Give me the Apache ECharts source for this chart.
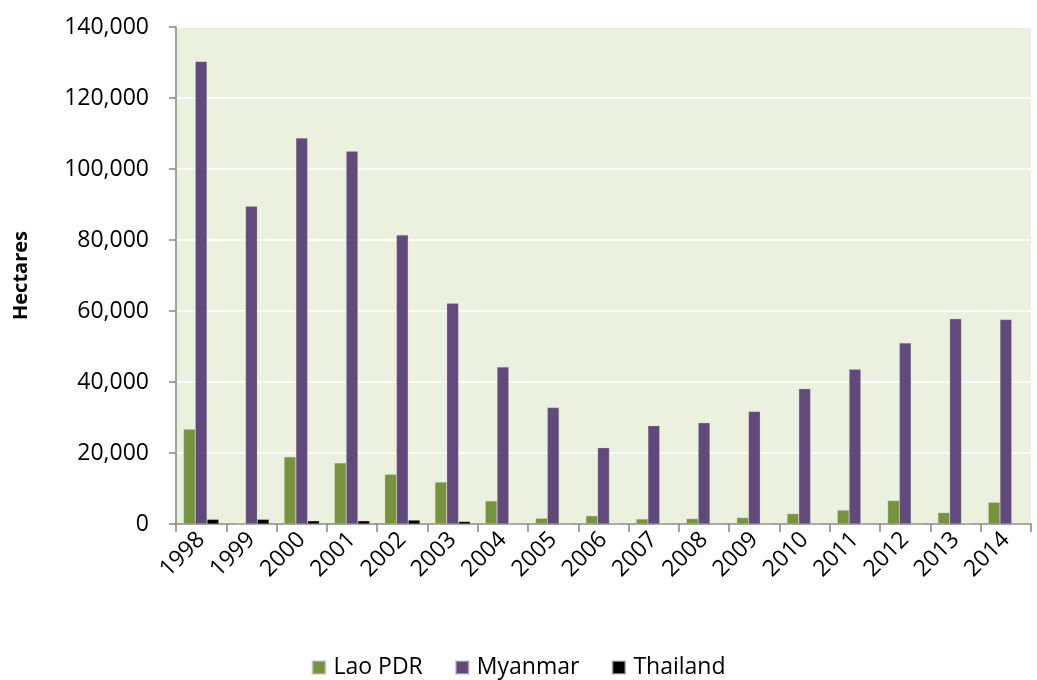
<!DOCTYPE html>
<html><head><meta charset="utf-8">
<script src="https://cdn.jsdelivr.net/npm/echarts@6/dist/echarts.min.js"></script>
<style>html,body{margin:0;padding:0;background:#fff}#c{width:1037px;height:680px}</style>
</head><body><div id="c"></div>
<script>
const years = ['1998','1999','2000','2001','2002','2003','2004','2005','2006','2007','2008','2009','2010','2011','2012','2013','2014'];
const laoPDR = [26700, 0, 18900, 17200, 14000, 11800, 6500, 1600, 2300, 1400, 1500, 1800, 2900, 3900, 6600, 3200, 6100];
const myanmar = [130300, 89500, 108700, 105000, 81400, 62200, 44200, 32800, 21500, 27700, 28500, 31700, 38100, 43600, 51000, 57800, 57600];
const thailand = [1300, 1300, 900, 900, 1100, 700, 0, 0, 0, 0, 0, 0, 0, 0, 0, 0, 0];
const yTicks = {min: 0, max: 140000, interval: 20000};

const font = 'Open Sans, Liberation Sans, sans-serif';
const chart = echarts.init(document.getElementById('c'), null, {renderer: 'canvas'});
const bar = (name, data, color) => ({
  name, type: 'bar', data, barGap: '0%', barCategoryGap: '30%',
  itemStyle: {color, borderColor: 'rgba(200,200,200,0.6)', borderWidth: 0.5},
  emphasis: {disabled: true}
});
chart.setOption({
  animation: false,
  textStyle: {fontFamily: font},
  grid: {left: 176, right: 6, top: 27, bottom: 156, show: true, backgroundColor: '#EBF1DE', borderWidth: 0},
  legend: {
    bottom: -4, left: 'center', itemWidth: 13, itemHeight: 13, itemGap: 32,
    icon: 'rect',
    textStyle: {fontSize: 23, color: '#000', fontFamily: font, padding: [0, 0, 0, 3]},
    data: ['Lao PDR', 'Myanmar', 'Thailand']
  },
  xAxis: {
    type: 'category', data: years,
    axisLine: {lineStyle: {color: '#868686', width: 1.5}},
    axisTick: {show: true, length: 8, lineStyle: {color: '#868686', width: 1.5}},
    axisLabel: {rotate: 45, fontSize: 23, color: '#000', margin: 12, fontFamily: font}
  },
  yAxis: {
    type: 'value', min: yTicks.min, max: yTicks.max, interval: yTicks.interval,
    name: 'Hectares', nameLocation: 'middle', nameGap: 145, nameRotate: 90,
    nameTextStyle: {fontSize: 20, fontWeight: 'bold', color: '#000', fontFamily: font},
    axisLine: {show: true, lineStyle: {color: '#868686', width: 1.5}},
    axisTick: {show: true, length: 7, lineStyle: {color: '#868686', width: 1.5}},
    splitLine: {lineStyle: {color: '#ffffff', width: 1.5}},
    axisLabel: {fontSize: 23, color: '#000', margin: 27, fontFamily: font,
      formatter: v => v.toLocaleString('en-US')}
  },
  series: [
    bar('Lao PDR', laoPDR, '#77933C'),
    bar('Myanmar', myanmar, '#604A7B'),
    bar('Thailand', thailand, '#000000')
  ]
});
</script></body></html>
